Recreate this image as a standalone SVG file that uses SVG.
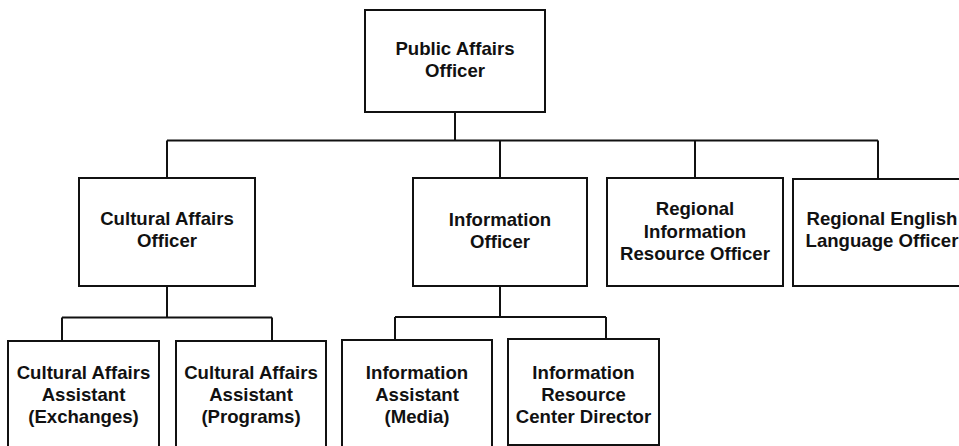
<svg xmlns="http://www.w3.org/2000/svg" width="959" height="446" viewBox="0 0 959 446">
<style>
.box{fill:#fff;stroke:#111;stroke-width:2}
.ln{fill:none;stroke:#111;stroke-width:2}
text{font-family:"Liberation Sans",Arial,Helvetica,sans-serif;font-weight:bold;font-size:18.6px;fill:#111;text-anchor:middle}
</style>
<rect width="959" height="446" fill="#fff"/>
<g id="connectors">
<path class="ln" d="M455 112V140.5M167 140.5H878M167 140.5V178M500 140.5V178M695 140.5V178M878 140.5V179"/>
<path class="ln" d="M167 286V317.5M62 317.5H272M62 317.5V341M272 317.5V341"/>
<path class="ln" d="M500 286V317M395 317H606M395 317V340M606 317V339"/>
</g>
<g id="pao"><rect class="box" x="365" y="10" width="180" height="102"/><text x="455" y="55">Public Affairs</text><text x="455" y="77">Officer</text></g>
<g id="cao"><rect class="box" x="79" y="178" width="176" height="108"/><text x="167" y="225">Cultural Affairs</text><text x="167" y="247">Officer</text></g>
<g id="io"><rect class="box" x="413" y="178" width="174" height="108"/><text x="500" y="226">Information</text><text x="500" y="248">Officer</text></g>
<g id="rio"><rect class="box" x="607" y="178" width="176" height="108"/><text x="695" y="215">Regional</text><text x="695" y="238">Information</text><text x="695" y="260">Resource Officer</text></g>
<g id="relo"><rect class="box" x="793" y="179" width="180" height="107"/><text x="882" y="225">Regional English</text><text x="882" y="247">Language Officer</text></g>
<g id="caa-ex"><rect class="box" x="8" y="341" width="151" height="120"/><text x="83.5" y="379">Cultural Affairs</text><text x="83.5" y="401">Assistant</text><text x="83.5" y="423">(Exchanges)</text></g>
<g id="caa-pr"><rect class="box" x="176" y="341" width="150" height="120"/><text x="251" y="379">Cultural Affairs</text><text x="251" y="401">Assistant</text><text x="251" y="423">(Programs)</text></g>
<g id="ia"><rect class="box" x="342" y="340" width="150" height="121"/><text x="417" y="379">Information</text><text x="417" y="401">Assistant</text><text x="417" y="423">(Media)</text></g>
<g id="ircd"><rect class="box" x="508" y="339" width="151" height="106"/><text x="583.5" y="379">Information</text><text x="583.5" y="401">Resource</text><text x="583.5" y="423">Center Director</text></g>
</svg>
